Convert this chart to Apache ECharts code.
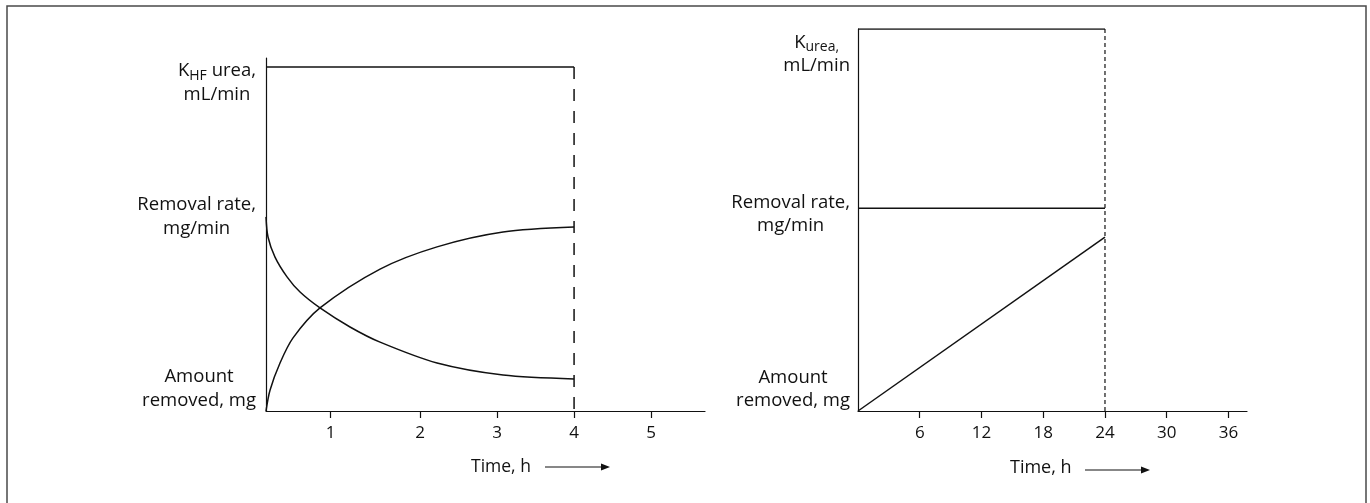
<!DOCTYPE html>
<html><head><meta charset="utf-8">
<script src="https://cdn.jsdelivr.net/npm/echarts@6/dist/echarts.min.js"></script>
<style>html,body{margin:0;padding:0;background:#fff}#c{width:1370px;height:503px}</style>
</head><body><div id="c"></div>
<script>
// ---- Left panel: hemofiltration (time, h) ----
const leftTickPos = [0.84, 2, 3, 4, 5];
const leftTickLabels = ['1', '2', '3', '4', '5'];
const leftKhf = [[0, 97.45], [4, 97.45]];
const leftRemovalRate = [[0, 55.0], [0.026, 49.3], [0.117, 43.6], [0.273, 38.0], [0.442, 33.7], [0.701, 29.2], [1.091, 23.8], [1.481, 19.5], [2.221, 13.6], [3.078, 10.2], [4.0, 9.1]];
const leftAmountRemoved = [[0, 0], [0.052, 5.9], [0.182, 13.6], [0.351, 20.7], [0.701, 29.2], [1.481, 40.2], [2.221, 46.5], [3.078, 50.7], [4.0, 52.1]];
const leftEnd = [[4, 97.45], [4, 0]];
const leftYLabelPos = [6.3, 54.9, 92.9];
const leftYLabels = ['Amount\nremoved, mg', 'Removal rate,\nmg/min', 'K_{HF} urea,\nmL/min'];

// ---- Right panel: continuous therapy (time, h) ----
const rightTickPos = [6, 12, 18, 24, 30, 36];
const rightTickLabels = ['6', '12', '18', '24', '30', '36'];
const rightK = [[0, 100], [24, 100]];
const rightRemovalRate = [[0, 53.1], [24, 53.1]];
const rightAmountRemoved = [[0, 0], [24, 45.5]];
const rightEnd = [[24, 100], [24, 0]];
const rightYLabelPos = [5.8, 51.6, 93.5];
const rightYLabels = ['Amount\nremoved, mg', 'Removal rate,\nmg/min', 'K_{urea,}\nmL/min'];

const xTitle = 'Time, h';
const FONT = '"Open Sans", "Noto Sans", sans-serif';
const INK = '#111';

function toRich(str) {
  return str.split('\n').map(line => {
    let out = '', last = 0, m;
    const re = /_\{([^}]*)\}/g;
    while ((m = re.exec(line))) {
      if (m.index > last) out += '{t|' + line.slice(last, m.index) + '}';
      out += '{s|' + m[1] + '}';
      last = re.lastIndex;
    }
    if (last < line.length) out += '{t|' + line.slice(last) + '}';
    return out;
  }).join('\n');
}
function labelFor(pos, labels) {
  return v => {
    let bi = 0;
    pos.forEach((p, i) => { if (Math.abs(p - v) < Math.abs(pos[bi] - v)) bi = i; });
    return labels[bi];
  };
}

function xAxis(gi, max, pos, labels) {
  return {
    type: 'value', gridIndex: gi, min: 0, max: max,
    axisLine: { show: true, lineStyle: { color: INK, width: 1.2 } },
    axisTick: { show: true, customValues: pos, length: 7, lineStyle: { color: INK, width: 1.2 } },
    axisLabel: { customValues: pos, formatter: labelFor(pos, labels), color: INK, fontSize: 17, fontFamily: FONT, margin: 14 },
    splitLine: { show: false }
  };
}
function yAxis(gi, pos, labels, fs, lh, margin) {
  const fmt = labelFor(pos, labels);
  return {
    type: 'value', gridIndex: gi, min: 0, max: 100,
    axisLine: { show: true, lineStyle: { color: INK, width: 1.2 } },
    axisTick: { show: false },
    splitLine: { show: false },
    axisLabel: {
      customValues: pos, margin: margin,
      formatter: v => toRich(fmt(v)),
      rich: {
        t: { fontSize: fs, fontFamily: FONT, color: INK, lineHeight: lh, align: 'center' },
        s: { fontSize: Math.round(fs * 0.75), fontFamily: FONT, color: INK, lineHeight: lh * 0.66, verticalAlign: 'bottom', align: 'center' }
      }
    }
  };
}
function line(xi, data, opts) {
  return Object.assign({
    type: 'line', xAxisIndex: xi, yAxisIndex: xi, data: data, symbol: 'none', silent: true,
    lineStyle: { color: INK, width: 1.5 }, animation: false
  }, opts || {});
}

function arrowGroup(tx, ty, ax1, ax2, ay, fs) {
  return {
    type: 'group', children: [
      { type: 'text', x: tx, y: ty, style: { text: xTitle, font: fs + 'px ' + FONT, fill: INK, verticalAlign: 'middle' } },
      { type: 'line', shape: { x1: ax1, y1: ay, x2: ax2 - 7, y2: ay }, style: { stroke: INK, lineWidth: 1.2 } },
      { type: 'polygon', shape: { points: [[ax2 - 9, ay - 3.5], [ax2, ay], [ax2 - 9, ay + 3.5]] }, style: { fill: INK } }
    ]
  };
}

const chart = echarts.init(document.getElementById('c'));
chart.setOption({
  animation: false,
  backgroundColor: '#fff',
  grid: [
    { left: 266, right: 665, top: 58, bottom: 92 },
    { left: 858, right: 123, top: 29, bottom: 92 }
  ],
  xAxis: [xAxis(0, 5.7, leftTickPos, leftTickLabels), xAxis(1, 37.8, rightTickPos, rightTickLabels)],
  yAxis: [yAxis(0, leftYLabelPos, leftYLabels, 18.5, 24, 10), yAxis(1, rightYLabelPos, rightYLabels, 18.5, 23, 8)],
  series: [
    line(0, leftKhf),
    line(0, leftRemovalRate, { smooth: 0.3 }),
    line(0, leftAmountRemoved, { smooth: 0.3 }),
    line(0, leftEnd, { lineStyle: { color: INK, width: 1.5, type: [12, 10] } }),
    line(1, rightK),
    line(1, rightRemovalRate),
    line(1, rightAmountRemoved),
    line(1, rightEnd, { lineStyle: { color: INK, width: 1.2, type: [4, 3] } })
  ],
  graphic: [
    { type: 'rect', shape: { x: 7, y: 6, width: 1359, height: 520 }, style: { fill: null, stroke: '#4a4a4a', lineWidth: 1.5 }, silent: true },
    arrowGroup(471, 467, 545, 610, 467, 17.5),
    arrowGroup(1010, 468, 1085, 1150, 470, 18)
  ]
});
</script>
</body></html>
